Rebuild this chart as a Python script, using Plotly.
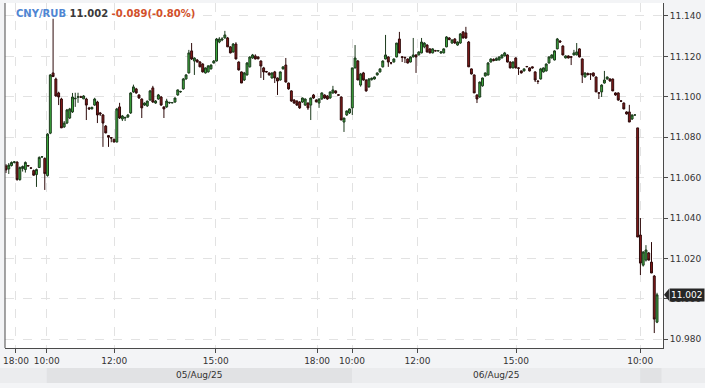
import plotly.graph_objects as go

# ---------------- data ----------------
pair = "CNY/RUB"
change_abs = -0.089
change_pct = -0.80

opens = [
 11.0658,11.0643,11.0660,11.0675,11.0677,11.0590,11.0645,11.0640,11.0660,11.0648,
 11.0635,11.0615,11.0650,11.0702,11.0695,11.0610,11.0820,11.1118,11.1088,11.1019,
 11.0989,11.0851,11.0870,11.0895,11.0925,11.0990,11.0998,11.1000,11.0990,11.0989,
 11.0945,11.0940,11.0959,11.0974,11.0920,11.0910,11.0855,11.0808,11.0798,11.0790,
 11.0776,11.0950,11.0890,11.0895,11.0900,11.0920,11.1024,11.1039,11.1009,11.0989,
 11.0959,11.0955,11.0984,11.1044,11.0969,11.0989,11.0999,11.0950,11.0950,11.0970,
 11.0970,11.0974,11.1009,11.1024,11.1039,11.1088,11.1118,11.1227,11.1177,11.1182,
 11.1172,11.1162,11.1118,11.1123,11.1138,11.1167,11.1177,11.1271,11.1281,11.1291,
 11.1291,11.1247,11.1222,11.1261,11.1172,11.1123,11.1083,11.1108,11.1148,11.1192,
 11.1202,11.1197,11.1177,11.1143,11.1125,11.1118,11.1093,11.1123,11.1093,11.1083,
 11.1138,11.1157,11.1068,11.1029,11.0984,11.0979,11.0974,11.0974,11.0959,11.0969,
 11.0959,11.1009,11.0984,11.0969,11.0989,11.1009,11.1004,11.0994,11.1019,11.1029,
 11.1010,11.0999,11.0875,11.0910,11.0920,11.0945,11.1143,11.1177,11.1058,11.1118,
 11.1083,11.1049,11.1085,11.1088,11.1108,11.1123,11.1148,11.1187,11.1197,11.1168,
 11.1172,11.1197,11.1286,11.1198,11.1195,11.1187,11.1172,11.1197,11.1207,11.1207,
 11.1217,11.1247,11.1256,11.1237,11.1217,11.1228,11.1227,11.1217,11.1217,11.1247,
 11.1291,11.1266,11.1286,11.1256,11.1266,11.1321,11.1316,11.1271,11.1138,11.1108,
 11.1009,11.0999,11.1054,11.1103,11.1108,11.1172,11.1185,11.1180,11.1182,11.1192,
 11.1202,11.1207,11.1172,11.1143,11.1192,11.1143,11.1128,11.1128,11.1150,11.1143,
 11.1148,11.1123,11.1078,11.1088,11.1123,11.1128,11.1167,11.1192,11.1182,11.1237,
 11.1276,11.1251,11.1192,11.1202,11.1198,11.1207,11.1207,11.1237,11.1187,11.1098,
 11.1115,11.1113,11.1118,11.1098,11.1020,11.1024,11.1068,11.1088,11.1088,11.1088,
 11.1019,11.1019,11.0980,11.0969,11.0925,11.0925,11.0890,11.0910,11.0846,11.0316,
 11.0167,11.0192,11.0227,11.0182,11.0113,10.9885,
]
highs = [
 11.0667,11.0672,11.0680,11.0682,11.0680,11.0655,11.0660,11.0680,11.0662,11.0650,
 11.0640,11.0645,11.0705,11.0705,11.0700,11.0820,11.1112,11.1386,11.1095,11.1025,
 11.0995,11.0880,11.0940,11.0945,11.1019,11.1020,11.1020,11.1005,11.1008,11.0995,
 11.0950,11.0950,11.0995,11.0980,11.0925,11.0915,11.0860,11.0810,11.0800,11.0792,
 11.0945,11.0970,11.0910,11.0900,11.0915,11.1022,11.1060,11.1044,11.1012,11.0992,
 11.0972,11.0980,11.1034,11.1054,11.0984,11.1014,11.1004,11.0952,11.0990,11.0975,
 11.0972,11.0996,11.1036,11.1030,11.1093,11.1112,11.1232,11.1266,11.1195,11.1187,
 11.1177,11.1166,11.1145,11.1155,11.1160,11.1182,11.1291,11.1295,11.1295,11.1326,
 11.1296,11.1250,11.1266,11.1270,11.1175,11.1125,11.1123,11.1172,11.1200,11.1212,
 11.1210,11.1200,11.1180,11.1148,11.1128,11.1120,11.1120,11.1128,11.1095,11.1125,
 11.1150,11.1192,11.1070,11.1032,11.0988,11.0982,11.0978,11.0996,11.0992,11.0972,
 11.0996,11.1014,11.0988,11.0992,11.1022,11.1012,11.1008,11.1026,11.1054,11.1032,
 11.1012,11.1002,11.0895,11.0932,11.0942,11.1143,11.1256,11.1182,11.1118,11.1123,
 11.1086,11.1093,11.1095,11.1100,11.1120,11.1140,11.1180,11.1306,11.1200,11.1172,
 11.1190,11.1266,11.1321,11.1200,11.1198,11.1190,11.1200,11.1291,11.1210,11.1225,
 11.1291,11.1270,11.1260,11.1240,11.1240,11.1232,11.1230,11.1225,11.1240,11.1300,
 11.1295,11.1284,11.1290,11.1274,11.1315,11.1325,11.1346,11.1276,11.1140,11.1110,
 11.1012,11.1075,11.1095,11.1120,11.1172,11.1190,11.1190,11.1195,11.1200,11.1210,
 11.1222,11.1210,11.1175,11.1175,11.1195,11.1146,11.1130,11.1140,11.1152,11.1146,
 11.1150,11.1126,11.1080,11.1143,11.1145,11.1165,11.1200,11.1210,11.1230,11.1291,
 11.1280,11.1255,11.1205,11.1205,11.1200,11.1232,11.1266,11.1240,11.1190,11.1120,
 11.1120,11.1115,11.1120,11.1100,11.1022,11.1062,11.1128,11.1100,11.1092,11.1090,
 11.1022,11.1022,11.0982,11.0972,11.0928,11.0960,11.0912,11.0912,11.0846,11.0400,
 11.0236,11.0266,11.0232,11.0281,11.0118,11.0030,
]
lows = [
 11.0623,11.0618,11.0655,11.0670,11.0585,11.0585,11.0630,11.0625,11.0655,11.0645,
 11.0610,11.0554,11.0648,11.0700,11.0539,11.0605,11.0815,11.1098,11.1000,11.0959,
 11.0846,11.0846,11.0865,11.0890,11.0920,11.0950,11.0970,11.0995,11.0988,11.0885,
 11.0935,11.0938,11.0955,11.0870,11.0905,11.0752,11.0820,11.0752,11.0775,11.0775,
 11.0775,11.0890,11.0880,11.0880,11.0895,11.0915,11.1020,11.1015,11.0990,11.0895,
 11.0955,11.0950,11.0980,11.0970,11.0965,11.0985,11.0955,11.0895,11.0945,11.0965,
 11.0968,11.0970,11.1005,11.1020,11.1035,11.1085,11.1115,11.1182,11.1108,11.1170,
 11.1147,11.1120,11.1115,11.1120,11.1135,11.1165,11.1175,11.1265,11.1275,11.1288,
 11.1247,11.1215,11.1218,11.1185,11.1130,11.1068,11.1078,11.1105,11.1145,11.1188,
 11.1185,11.1185,11.1093,11.1083,11.1120,11.1105,11.1090,11.1068,11.1009,11.1080,
 11.1135,11.1070,11.1035,11.0975,11.0965,11.0955,11.0940,11.0970,11.0955,11.0935,
 11.0885,11.0990,11.0972,11.0945,11.0985,11.0990,11.0985,11.0990,11.1015,11.1015,
 11.1005,11.0885,11.0826,11.0905,11.0915,11.0910,11.1140,11.1083,11.1050,11.1080,
 11.1025,11.1045,11.1080,11.1085,11.1105,11.1120,11.1145,11.1185,11.1148,11.1160,
 11.1170,11.1195,11.1215,11.1172,11.1167,11.1165,11.1170,11.1195,11.1118,11.1205,
 11.1215,11.1240,11.1218,11.1215,11.1215,11.1225,11.1224,11.1212,11.1215,11.1245,
 11.1280,11.1262,11.1262,11.1252,11.1262,11.1288,11.1286,11.1148,11.1110,11.1019,
 11.0969,11.0995,11.1050,11.1100,11.1105,11.1170,11.1175,11.1178,11.1180,11.1190,
 11.1200,11.1170,11.1140,11.1140,11.1140,11.1108,11.1115,11.1125,11.1146,11.1125,
 11.1140,11.1073,11.1063,11.1085,11.1120,11.1125,11.1165,11.1190,11.1180,11.1235,
 11.1268,11.1205,11.1190,11.1190,11.1157,11.1205,11.1205,11.1195,11.1068,11.1095,
 11.1105,11.1083,11.1100,11.1024,11.0989,11.0999,11.1065,11.1085,11.1075,11.1028,
 11.1005,11.0980,11.0975,11.0938,11.0912,11.0875,11.0885,11.0908,11.0306,11.0118,
 11.0160,11.0185,11.0190,11.0128,10.9831,10.9880,
]
closes = [
 11.0638,11.0662,11.0675,11.0678,11.0590,11.0650,11.0655,11.0675,11.0658,11.0647,
 11.0612,11.0640,11.0700,11.0703,11.0620,11.0815,11.1108,11.1100,11.1004,11.0999,
 11.0846,11.0870,11.0935,11.0940,11.0999,11.0992,11.1000,11.0998,11.1004,11.0959,
 11.0940,11.0948,11.0989,11.0910,11.0915,11.0870,11.0821,11.0800,11.0796,11.0776,
 11.0940,11.0895,11.0905,11.0898,11.0910,11.1019,11.1049,11.1019,11.0994,11.0945,
 11.0969,11.0979,11.1029,11.0974,11.0979,11.1009,11.0959,11.0940,11.0979,11.0972,
 11.0971,11.0994,11.1034,11.1026,11.1088,11.1108,11.1217,11.1187,11.1192,11.1172,
 11.1148,11.1123,11.1143,11.1153,11.1157,11.1177,11.1286,11.1286,11.1286,11.1306,
 11.1247,11.1217,11.1261,11.1187,11.1133,11.1068,11.1118,11.1167,11.1197,11.1207,
 11.1187,11.1188,11.1152,11.1123,11.1123,11.1108,11.1118,11.1093,11.1078,11.1123,
 11.1148,11.1073,11.1039,11.0979,11.0969,11.0959,11.0945,11.0994,11.0989,11.0945,
 11.0994,11.0994,11.0975,11.0989,11.1019,11.0994,11.0989,11.1024,11.1034,11.1019,
 11.1008,11.0885,11.0895,11.0930,11.0940,11.1143,11.1192,11.1083,11.1113,11.1083,
 11.1029,11.1088,11.1092,11.1098,11.1118,11.1138,11.1177,11.1207,11.1172,11.1167,
 11.1187,11.1266,11.1217,11.1195,11.1193,11.1167,11.1197,11.1207,11.1197,11.1222,
 11.1271,11.1266,11.1222,11.1217,11.1237,11.1227,11.1228,11.1222,11.1237,11.1296,
 11.1283,11.1281,11.1266,11.1271,11.1311,11.1291,11.1291,11.1148,11.1113,11.1019,
 11.0989,11.1073,11.1093,11.1118,11.1167,11.1187,11.1180,11.1190,11.1197,11.1207,
 11.1217,11.1172,11.1143,11.1172,11.1143,11.1141,11.1118,11.1138,11.1149,11.1128,
 11.1143,11.1083,11.1076,11.1138,11.1143,11.1162,11.1197,11.1207,11.1227,11.1286,
 11.1271,11.1207,11.1202,11.1192,11.1196,11.1217,11.1222,11.1197,11.1108,11.1118,
 11.1110,11.1112,11.1103,11.1024,11.1018,11.1058,11.1083,11.1098,11.1078,11.1029,
 11.1009,11.0984,11.0978,11.0940,11.0915,11.0875,11.0910,11.0910,11.0306,11.0177,
 11.0232,11.0242,11.0192,11.0128,10.9900,11.0020,
]

time_labels = ["18:00", "10:00", "12:00", "15:00", "18:00", "10:00", "12:00", "15:00", "10:00"]
time_label_bar = [3.6, 14.7, 39.1, 75.7, 112.3, 124.9, 148.5, 184.1, 228.9]
day_labels = ["05/Aug/25", "06/Aug/25"]
day_boundaries = [14.7, 124.9, 228.9]
y_ticks = [10.98, 11.00, 11.02, 11.04, 11.06, 11.08, 11.10, 11.12, 11.14]

# ---------------- figure ----------------
FONT = "DejaVu Sans"
bars = list(range(len(closes)))
XR = [-0.36, 237.15]
YR = [10.9757, 11.1464]

def xp(v):
    return (v - XR[0]) / (XR[1] - XR[0])

def yp(v):
    return (v - YR[0]) / (YR[1] - YR[0])

fig = go.Figure()
fig.add_trace(go.Candlestick(
    x=bars, open=opens, high=highs, low=lows, close=closes,
    increasing=dict(line=dict(color="#1c3a1c", width=1), fillcolor="#3fb23f"),
    decreasing=dict(line=dict(color="#2e0a0a", width=1), fillcolor="#8c1c1c"),
    whiskerwidth=0, hoverinfo="skip", showlegend=False,
))

shapes = []
# date band
band_y0, band_y1 = -35 / 345, -20 / 345
shapes.append(dict(type="rect", xref="paper", yref="paper", x0=-0.01, x1=1.07,
                   y0=band_y0, y1=band_y1, fillcolor="#ebecee", line=dict(width=0), layer="below"))
seg_edges = day_boundaries + [bars[-1] + 1.6]
for k in range(0, len(seg_edges) - 1, 2):
    shapes.append(dict(type="rect", xref="paper", yref="paper",
                       x0=xp(seg_edges[k]), x1=xp(seg_edges[k + 1]),
                       y0=band_y0, y1=band_y1, fillcolor="#e1e2e4", line=dict(width=0), layer="below"))
# left border
shapes.append(dict(type="line", xref="paper", yref="paper", x0=0, x1=0, y0=0, y1=1,
                   line=dict(color="#4a4a4a", width=1)))
# last price tag arrow
last = closes[-1]
ty = yp(last)
d = 6 / 345
shapes.append(dict(type="path", xref="paper", yref="paper",
                   path=f"M {xp(XR[1]) + 1/662},{ty} L {xp(XR[1]) + 6/662},{ty + d} L {xp(XR[1]) + 6/662},{ty - d} Z",
                   fillcolor="#262626", line=dict(width=0)))

annotations = []
for k, lab in enumerate(day_labels):
    annotations.append(dict(x=(day_boundaries[k] + day_boundaries[k + 1]) / 2, xref="x",
                            y=(band_y0 + band_y1) / 2, yref="paper", text=lab, showarrow=False,
                            font=dict(family=FONT, size=9, color="#333333"),
                            xanchor="center", yanchor="middle"))
title_html = (f'<b><span style="color:#4f86d3">{pair}</span> '
              f'<span style="color:#3a3a3a">{last:.3f}</span> '
              f'<span style="color:#d2502a">{change_abs:.3f}({change_pct:.2f}%)</span></b>')
annotations.append(dict(x=xp(-0.36 + 8.6 / 2.787), xref="paper", y=(348 - 13) / 345, yref="paper",
                        text=title_html, showarrow=False, xanchor="left", yanchor="middle",
                        font=dict(family=FONT, size=10)))
annotations.append(dict(x=1, xref="paper", xshift=6, y=last, yref="y", text=f"{last:.3f}",
                        showarrow=False, xanchor="left", yanchor="middle", bgcolor="#262626",
                        borderpad=1, font=dict(family=FONT, size=9, color="#ffffff")))

fig.update_layout(
    width=705, height=388,
    margin=dict(l=3, r=40, t=3, b=40),
    paper_bgcolor="#f3f4f6", plot_bgcolor="#ffffff",
    font=dict(family=FONT, size=9, color="#333333"),
    showlegend=False, hovermode=False, boxgap=0.02,
    shapes=shapes, annotations=annotations,
)
fig.update_xaxes(
    range=XR, tickmode="array", tickvals=time_label_bar, ticktext=time_labels,
    showgrid=True, gridcolor="#e2e2e2", griddash="dash", gridwidth=1,
    showline=True, linecolor="#4a4a4a", linewidth=1,
    ticks="outside", ticklen=4, tickcolor="#4a4a4a", zeroline=False,
    rangeslider=dict(visible=False), fixedrange=True,
)
fig.update_yaxes(
    range=YR, side="right", tickmode="array", tickvals=y_ticks,
    ticktext=[f"{v:.3f}" for v in y_ticks],
    showgrid=True, gridcolor="#e2e2e2", griddash="dash", gridwidth=1,
    showline=True, linecolor="#4a4a4a", linewidth=1,
    ticks="outside", ticklen=4, tickcolor="#4a4a4a", zeroline=False, fixedrange=True,
)

fig.write_html("out.html")
